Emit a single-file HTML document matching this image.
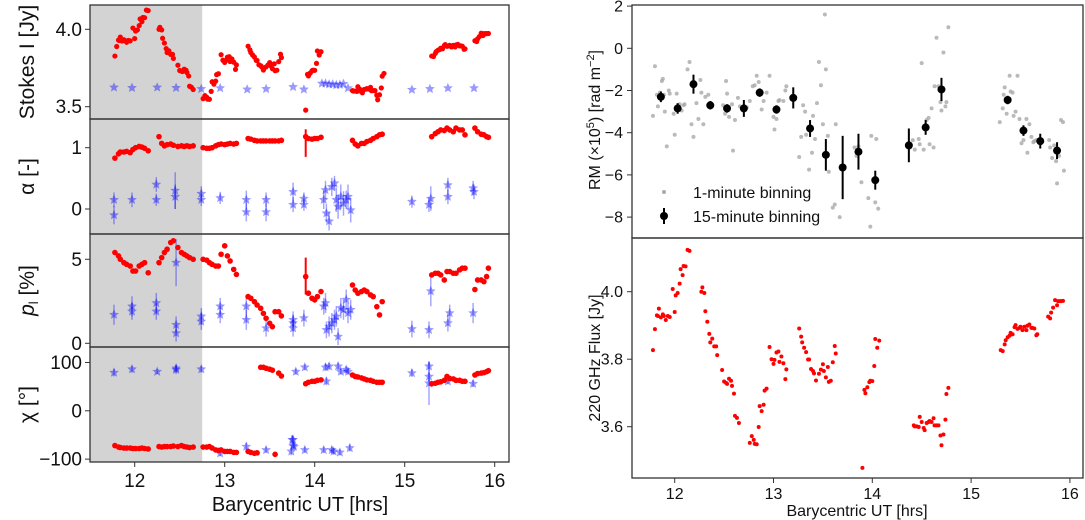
<!DOCTYPE html>
<html><head><meta charset="utf-8"><style>
html,body{margin:0;padding:0;background:#fff}
svg{display:block;font-family:"Liberation Sans","DejaVu Sans",sans-serif}
</style></head><body>
<svg id="fig" width="1085" height="520" viewBox="0 0 1085 520">
<g id="left"></g>
<g id="right"></g>
</svg>
<script>
// ---------- data: 220 GHz flux / Stokes I (hours, Jy) ----------
const fluxT = [11.78,11.80,11.82,11.83,11.84,11.86,11.88,11.89,11.91,11.93,11.95,11.98,12.00,12.01,12.03,12.05,12.06,12.08,12.09,12.11,12.13,12.15,
12.27,12.28,12.30,12.31,12.33,12.35,12.36,12.38,12.40,12.42,12.43,12.48,12.50,12.52,12.53,12.55,12.57,12.58,12.60,12.61,12.63,12.65,
12.76,12.78,12.80,12.81,12.83,12.85,12.86,12.88,12.90,12.91,12.93,12.96,12.98,13.00,13.01,13.03,13.05,13.06,13.08,13.10,13.12,13.13,
13.26,13.28,13.29,13.31,13.33,13.35,13.36,13.38,13.40,13.41,13.43,13.46,13.48,13.50,13.51,13.53,13.55,13.56,13.58,13.60,13.62,13.63,
13.90,13.92,13.93,13.95,13.97,13.98,14.00,14.02,14.03,14.05,14.07,
14.42,14.43,14.45,14.47,14.48,14.50,14.52,14.53,14.55,14.57,14.58,14.60,14.62,14.63,14.65,14.67,14.69,14.70,14.72,14.74,14.75,14.77,
15.30,15.32,15.34,15.35,15.37,15.39,15.40,15.42,15.44,15.45,15.47,15.49,15.50,15.52,15.54,15.56,15.57,15.59,15.61,15.62,15.64,15.66,15.67,
15.78,15.80,15.81,15.83,15.85,15.87,15.88,15.90,15.91,15.93];
const fluxV = [3.827,3.889,3.930,3.928,3.950,3.924,3.933,3.928,3.916,3.928,3.925,4.008,3.940,3.989,3.996,4.024,4.067,4.049,4.076,4.075,4.124,4.121,
4.000,4.013,3.996,3.942,3.911,3.875,3.850,3.861,3.838,3.838,3.812,3.768,3.734,3.730,3.727,3.742,3.736,3.721,3.698,3.632,3.626,3.611,
3.552,3.572,3.561,3.549,3.548,3.599,3.661,3.646,3.665,3.707,3.713,3.836,3.800,3.786,3.798,3.820,3.823,3.792,3.808,3.788,3.741,3.770,
3.891,3.867,3.850,3.834,3.821,3.799,3.799,3.771,3.765,3.758,3.737,3.757,3.769,3.785,3.765,3.746,3.777,3.733,3.736,3.791,3.839,3.817,
3.478,3.709,3.699,3.717,3.732,3.736,3.735,3.780,3.860,3.834,3.855,
3.604,3.601,3.601,3.599,3.629,3.614,3.596,3.590,3.611,3.614,3.617,3.614,3.625,3.604,3.604,3.604,3.574,3.545,3.577,3.621,3.697,3.715,
3.827,3.824,3.844,3.856,3.865,3.870,3.878,3.874,3.895,3.901,3.890,3.893,3.896,3.886,3.896,3.886,3.899,3.903,3.893,3.893,3.891,3.871,3.874,
3.926,3.921,3.938,3.953,3.975,3.960,3.972,3.972,3.972,3.973];

// ---------- data: left red series (alpha, p, chi) ----------
const redT = [11.78,11.82,11.84,11.88,11.91,11.95,11.98,12.01,12.05,12.08,12.11,12.15,
12.27,12.30,12.33,12.36,12.40,12.43,12.48,12.52,12.55,12.58,12.61,12.65,
12.76,12.80,12.83,12.86,12.90,12.93,12.96,13.00,13.03,13.06,13.10,13.13,
13.26,13.29,13.33,13.36,13.40,13.43,13.46,13.50,13.53,13.56,13.60,13.63,
13.90,13.93,13.97,14.00,14.03,14.07,
14.42,14.45,14.48,14.52,14.55,14.58,14.62,14.65,14.69,14.72,14.75,
15.30,15.34,15.37,15.40,15.44,15.47,15.50,15.54,15.57,15.61,15.64,15.67,
15.78,15.81,15.85,15.88,15.91,15.93];
const alphaRed = [0.83,0.90,0.93,0.93,0.94,0.92,0.97,1.00,1.02,1.01,0.99,0.95,
1.18,1.07,1.03,1.05,1.06,1.04,1.02,1.03,1.02,1.03,1.02,1.03,
1.00,0.99,0.99,1.00,1.03,1.05,1.06,1.05,1.06,1.07,1.06,1.07,
1.15,1.14,1.12,1.11,1.11,1.11,1.11,1.11,1.11,1.11,1.11,1.12,
1.18,1.15,1.14,1.15,1.15,1.17,
1.12,1.06,1.03,1.07,1.07,1.10,1.12,1.15,1.18,1.21,1.22,
1.18,1.23,1.26,1.29,1.28,1.32,1.29,1.26,1.32,1.29,1.29,1.21,
1.32,1.26,1.22,1.21,1.18,1.17];
const pRed = [5.4,5.2,5.0,4.8,4.7,4.6,4.3,4.3,4.6,4.7,4.8,4.2,
4.8,5.1,5.4,5.6,6.0,6.1,5.7,5.4,5.3,5.2,5.1,5.0,
5.0,4.95,4.8,4.7,4.6,4.6,5.3,5.8,5.2,4.9,4.4,4.1,
2.78,2.68,2.48,2.28,2.08,1.78,1.49,1.19,0.99,1.88,1.88,1.63,
3.97,2.98,2.68,2.58,2.78,3.08,
3.47,3.17,2.98,3.08,3.17,3.08,2.88,2.78,2.18,1.69,2.48,
4.07,4.17,4.17,4.07,3.77,4.27,4.27,4.17,4.17,4.37,4.47,4.47,
3.2,3.77,3.77,3.67,3.97,4.47];
const chiRed = [-72,-75,-76,-77,-77,-77,-78,-78,-78,-77,-78,-79,
-74,-75,-74,-74,-74,-73,-74,-72,-74,-75,-76,-75,
-75,-75,-74,-77,-81,-82,-81,-84,-84,-84,-86,-86,
-84,-86,-88,-87,90,90,88,86,84,-90,78,72,
56,59,61,61,63,64,
74,71,70,68,66,64,63,61,59,59,59,
56,57,59,60,63,71,67,66,63,63,61,61,
74,77,78,79,81,83];

// ---------- data: left blue series ----------
const stokesBlueT = [11.77,11.97,12.25,12.46,12.74,12.95,13.25,13.46,13.76,13.88,14.08,14.12,14.16,14.20,14.24,14.28,14.32,14.37,15.08,15.28,15.48,15.77];
const stokesBlueV = [3.625,3.622,3.625,3.622,3.615,3.62,3.612,3.615,3.628,3.612,3.65,3.65,3.645,3.645,3.64,3.642,3.648,3.62,3.61,3.615,3.62,3.62];
const alphaBlueT = [11.77,11.77,11.97,12.24,12.24,12.45,12.45,12.74,12.74,12.95,13.24,13.24,13.46,13.46,13.76,13.76,13.88,13.88,14.10,14.12,14.13,14.16,14.19,14.22,14.24,14.26,14.29,14.32,14.35,14.37,14.40,15.08,15.27,15.29,15.48,15.48,15.76,15.77];
const alphaBlueV = [0.15,-0.10,0.15,0.40,0.15,0.30,0.20,0.25,0.15,0.18,0.15,-0.05,0.15,-0.05,0.28,0.07,0.17,0.07,0.15,0.31,-0.07,-0.20,0.36,0.42,0.15,0.04,0.20,0.09,0.15,0.20,-0.02,0.12,0.07,0.17,0.20,0.39,0.34,0.28];
const alphaBlueE = [0.12,0.15,0.12,0.12,0.1,0.3,0.2,0.12,0.1,0.1,0.15,0.15,0.12,0.15,0.15,0.12,0.1,0.1,0.15,0.15,0.15,0.15,0.15,0.12,0.2,0.2,0.2,0.2,0.15,0.2,0.2,0.1,0.12,0.2,0.12,0.12,0.12,0.12];
const pBlueT = [11.77,11.97,11.97,12.24,12.24,12.46,12.46,12.46,12.74,12.74,12.95,12.95,13.24,13.24,13.46,13.76,13.76,13.76,13.88,14.10,14.12,14.13,14.16,14.19,14.22,14.24,14.26,14.29,14.32,14.35,14.37,14.40,15.08,15.27,15.29,15.48,15.50,15.76];
const pBlueV = [1.7,2.2,1.9,2.4,1.9,1.1,0.6,4.8,1.6,1.3,2.2,1.7,1.4,2.2,0.9,1.2,0.9,1.4,1.5,2.2,2.4,0.8,1.0,1.2,1.4,1.6,0.4,2.1,2.0,2.6,1.8,2.0,0.85,0.8,3.1,1.2,1.8,1.8];
const pBlueE = [0.6,0.6,0.5,0.6,0.5,0.5,0.5,1.4,0.5,0.5,0.5,0.5,0.6,0.6,0.5,0.5,0.5,0.5,0.5,0.5,0.6,0.5,0.6,0.6,0.6,0.6,0.5,0.6,0.6,0.6,0.6,0.6,0.5,0.5,0.9,0.5,0.5,0.6];
const chiBlueT = [11.77,11.97,12.25,12.46,12.46,12.74,12.95,13.24,13.46,13.76,13.76,13.74,13.75,13.77,13.79,13.89,13.89,14.12,14.13,14.16,14.10,14.19,14.21,14.26,14.28,14.29,14.35,14.37,14.39,15.08,15.27,15.27,15.27,15.48,15.76];
const chiBlueV = [79,86,81,85,88,86,-88,-74,-81,-60,-72,-84,-60,-74,81,90,-81,90,61,92,-81,-81,-84,92,-86,81,85,81,-77,78,92,71,57,61,56];
const chiBlueE = [8,7,5,9,8,7,6,8,6,8,6,8,10,8,6,6,6,8,8,7,6,7,7,8,6,6,7,6,7,8,10,10,45,6,7];

// ---------- data: RM ----------
const rm1T = [11.78,11.80,11.82,11.83,11.85,11.87,11.88,11.89,11.90,11.92,11.94,11.95,11.99,12.00,12.02,12.05,12.07,12.09,12.10,12.13,12.15,12.17,12.19,12.22,12.24,12.26,12.27,12.29,12.31,12.34,12.36,12.49,12.51,12.52,12.53,12.55,12.58,12.59,12.61,12.64,12.66,12.73,12.76,12.79,12.81,12.83,12.85,12.88,12.90,12.93,12.96,13.00,13.01,13.03,13.05,13.06,13.10,13.12,13.13,13.26,13.28,13.30,13.32,13.33,13.36,13.39,13.40,13.42,13.44,13.46,13.48,13.50,13.52,13.53,13.55,13.56,13.60,13.62,13.63,13.67,13.82,13.84,13.86,13.89,13.96,13.98,13.99,14.01,14.03,14.04,14.06,14.38,14.41,14.43,14.47,14.48,14.50,14.52,14.55,14.57,14.58,14.60,14.62,14.63,14.65,14.67,14.69,14.70,14.72,14.74,14.75,14.77,15.29,15.32,15.33,15.34,15.36,15.39,15.40,15.42,15.43,15.45,15.47,15.49,15.51,15.53,15.56,15.57,15.59,15.61,15.63,15.64,15.66,15.79,15.80,15.82,15.84,15.86,15.87,15.89,15.91,15.93,15.94];
const rm1V = [-3.2,-0.85,-2.2,-2.75,-2.1,-1.55,-1.45,-2.2,-3.0,-4.65,-2.0,-2.15,-3.1,-4.1,-2.15,-2.65,-2.95,-2.7,-2.65,-1.0,-0.65,-3.6,-4.2,-2.6,-3.35,-1.5,-2.1,-3.6,-2.3,-2.2,-2.65,-2.7,-3.1,-1.55,-2.15,-3.25,-2.65,-4.85,-3.4,-2.35,-2.75,-2.8,-2.5,-1.8,-1.75,-1.3,-1.6,-2.9,-2.5,-2.1,-1.3,-3.25,-3.85,-3.35,-2.5,-2.45,-2.5,-2.0,-1.8,-5.15,-4.2,-2.7,-3.0,-4.1,-5.75,-4.95,-3.2,-4.3,-2.6,-0.65,-1.75,-3.6,1.6,-1.0,-4.15,-5.85,-7.55,-7.4,-3.6,-8.0,-4.7,-5.1,-4.65,-6.35,-7.1,-8.45,-4.15,-6.2,-7.3,-4.3,-7.6,-4.7,-4.35,-4.8,-4.3,-4.55,-0.7,-4.8,-3.4,-3.3,-4.55,-2.85,-4.7,-1.8,0.5,-1.8,-2.55,-2.95,-0.2,-2.75,-2.55,1.0,-3.5,-2.85,-2.2,-1.85,-3.1,-1.3,-2.05,-2.1,-3.2,-3.0,-1.3,-3.35,-4.5,-4.35,-3.35,-4.95,-3.6,-4.2,-4.45,-4.4,-4.35,-4.35,-4.7,-5.2,-4.6,-5.35,-6.4,-5.1,-3.4,-3.5,-5.8];
const rm15T = [11.86,12.03,12.19,12.36,12.53,12.70,12.86,13.03,13.20,13.37,13.53,13.70,13.86,14.03,14.37,14.54,14.70,15.37,15.53,15.70,15.87];
const rm15V = [-2.3,-2.85,-1.7,-2.7,-2.85,-2.85,-2.1,-2.9,-2.35,-3.8,-5.05,-5.65,-4.9,-6.25,-4.6,-3.75,-1.95,-2.45,-3.9,-4.4,-4.85];
const rm15E = [0.25,0.25,0.45,0.2,0.2,0.4,0.2,0.2,0.5,0.4,0.75,1.5,0.85,0.45,0.8,0.35,0.55,0.2,0.25,0.35,0.4];

// ---------- ticks ----------
const xTicks = [12,13,14,15,16];
const tickStokes = [3.5,4.0], tickStokesLbl = ["3.5","4.0"];
const tickAlpha = [0,1], tickAlphaLbl = ["0","1"];
const tickP = [0,5], tickPLbl = ["0","5"];
const tickChi = [-100,0,100], tickChiLbl = ["\u2212100","0","100"];
const tickRM = [-8,-6,-4,-2,0,2], tickRMLbl = ["\u22128","\u22126","\u22124","\u22122","0","2"];
const tickFlux = [3.6,3.8,4.0], tickFluxLbl = ["3.6","3.8","4.0"];

// ---------- helpers ----------
const NS = "http://www.w3.org/2000/svg";
function mk(parent, tag, attrs){ const e=document.createElementNS(NS,tag); for(const k in attrs) e.setAttribute(k,attrs[k]); parent.appendChild(e); return e; }
const L = document.getElementById('left'), R = document.getElementById('right');
const xL = h => 134.7 + (h-12)*90;
const xR = h => 674.7 + (h-12)*98.8;
const yS = v => 29.3 - (v-4.0)*154.8;
const yA = v => 147.7 - (v-1)*61.3;
const yP = v => 343.3 - v*16.8;
const yC = v => 410.8 - v*0.4833;
const yRM = v => 48.3 - v*21.1;
const yF = v => 291.7 - (v-4.0)*337.5;
function star(cx,cy,r){ let d=''; for(let i=0;i<10;i++){const a=-Math.PI/2+i*Math.PI/5; const rr=i%2?r*0.45:r; d+=(i?'L':'M')+(cx+rr*Math.cos(a)).toFixed(1)+' '+(cy+rr*Math.sin(a)).toFixed(1);} return d+'Z'; }

const shade = mk(L,'rect',{x:90,y:5,width:xL(12.75)-90,height:457,fill:'#d3d3d3'});



const panels = [
 {top:5,bot:119,name:'stokes-panel',ys:yS,ticks:tickStokes,lbl:tickStokesLbl,title:'Stokes I [Jy]'},
 {top:119,bot:234,name:'alpha-panel',ys:yA,ticks:tickAlpha,lbl:tickAlphaLbl,title:'\u03b1 [-]'},
 {top:234,bot:347,name:'pol-panel',ys:yP,ticks:tickP,lbl:tickPLbl,title:'p'},
 {top:347,bot:462,name:'chi-panel',ys:yC,ticks:tickChi,lbl:tickChiLbl,title:'\u03c7 [\u00b0]'}
];
panels.forEach((p,i)=>{
  const g = mk(L,'g',{});
  
  
  p.g = g;
  p.ticks.forEach((t,j)=>{
    const y=p.ys(t);
    mk(g,'line',{x1:85,x2:90,y1:y,y2:y,stroke:'#333','stroke-width':1});
    const tx = mk(g,'text',{x:82,y:y+6.5,'text-anchor':'end','font-size':19,fill:'#111'});
    tx.textContent=p.lbl[j];
    
    
  });
  const cy=(p.top+p.bot)/2;
  const tt = mk(g,'text',{x:0,y:0,transform:`translate(34,${cy}) rotate(-90)`,'text-anchor':'middle','font-size':21,fill:'#111'});
  if(p.title==='p'){ tt.innerHTML='<tspan font-style="italic">p</tspan><tspan font-size="13" dy="4">l</tspan><tspan dy="-4"> [%]</tspan>'; }
  else tt.textContent=p.title;
  
  
});

function blueStars(g,T,V,E,ys){
  T.forEach((t,i)=>{
    const x=xL(t), y=ys(V[i]);
    if(E){ const e=E[i]; mk(g,'line',{x1:x,x2:x,y1:ys(V[i]+e),y2:ys(V[i]-e),stroke:'#0000ff','stroke-opacity':0.35,'stroke-width':1.5}); }
    const s=mk(g,'path',{d:star(x,y,5.2),fill:'#0000ff','fill-opacity':0.4});
    
    
  });
}
function redDots(g,T,V,ys,r,xs){
  T.forEach((t,i)=>{
    const c=mk(g,'circle',{cx:xs(t),cy:ys(V[i]),r:r,fill:'#ff0000'});
    
    
  });
}
blueStars(panels[0].g,stokesBlueT,stokesBlueV,null,yS);
redDots(panels[0].g,fluxT,fluxV,yS,2.6,xL);
blueStars(panels[1].g,alphaBlueT,alphaBlueV,alphaBlueE,yA);
redDots(panels[1].g,redT,alphaRed,yA,2.8,xL);
blueStars(panels[2].g,pBlueT,pBlueV,pBlueE,yP);
redDots(panels[2].g,redT,pRed,yP,2.8,xL);
blueStars(panels[3].g,chiBlueT,chiBlueV,chiBlueE,yC);
redDots(panels[3].g,redT,chiRed,yC,2.8,xL);
mk(panels[1].g,'line',{x1:xL(13.90),x2:xL(13.90),y1:yA(1.3),y2:yA(0.85),stroke:'#ff0000','stroke-width':2});
mk(panels[2].g,'line',{x1:xL(13.90),x2:xL(13.90),y1:yP(5.1),y2:yP(2.9),stroke:'#ff0000','stroke-width':2});

panels.forEach(p=>{ const f=mk(L,'rect',{x:90,y:p.top,width:419,height:p.bot-p.top,fill:'none',stroke:'#333','stroke-width':1.3});
    });
xTicks.forEach(t=>{
  const x=xL(t);
  mk(L,'line',{x1:x,x2:x,y1:462,y2:467,stroke:'#333'});
  const tx=mk(L,'text',{x:x,y:487,'text-anchor':'middle','font-size':19,fill:'#111'}); tx.textContent=String(t);
   
});
const xtl=mk(L,'text',{x:300,y:511,'text-anchor':'middle','font-size':20,fill:'#111'}); xtl.textContent='Barycentric UT [hrs]';
 

// ---------- right ----------
const gRM=mk(R,'g',{});  
const gF=mk(R,'g',{});  
rm1T.forEach((t,i)=>{ const c=mk(gRM,'circle',{cx:xR(t),cy:yRM(rm1V[i]),r:2,fill:'#a9a9a9','fill-opacity':0.8});
    });
rm15T.forEach((t,i)=>{ const x=xR(t);
  mk(gRM,'line',{x1:x,x2:x,y1:yRM(rm15V[i]+rm15E[i]),y2:yRM(rm15V[i]-rm15E[i]),stroke:'#000','stroke-width':2});
  const c=mk(gRM,'circle',{cx:x,cy:yRM(rm15V[i]),r:4,fill:'#000'});
    });
redDots(gF,fluxT,fluxV,yF,2,xR);
tickRM.forEach((t,j)=>{ const y=yRM(t); mk(gRM,'line',{x1:627,x2:632,y1:y,y2:y,stroke:'#333'});
  const tx=mk(gRM,'text',{x:623,y:y+5.5,'text-anchor':'end','font-size':16,fill:'#111'}); tx.textContent=tickRMLbl[j];
    });
tickFlux.forEach((t,j)=>{ const y=yF(t); mk(gF,'line',{x1:627,x2:632,y1:y,y2:y,stroke:'#333'});
  const tx=mk(gF,'text',{x:623,y:y+5.5,'text-anchor':'end','font-size':16,fill:'#111'}); tx.textContent=tickFluxLbl[j];
    });
[[5,238],[238,478]].forEach(b=>{ const f=mk(R,'rect',{x:632,y:b[0],width:451,height:b[1]-b[0],fill:'none',stroke:'#333','stroke-width':1.3});
    });
xTicks.forEach(t=>{ const x=xR(t); mk(R,'line',{x1:x,x2:x,y1:478,y2:483,stroke:'#333'});
  const tx=mk(R,'text',{x:x,y:499,'text-anchor':'middle','font-size':16,fill:'#111'}); tx.textContent=String(t);
    });
const rxt=mk(R,'text',{x:857,y:516,'text-anchor':'middle','font-size':16,fill:'#111'}); rxt.textContent='Barycentric UT [hrs]';
 
const rmt=mk(R,'text',{transform:'translate(600,120) rotate(-90)','text-anchor':'middle','font-size':16,fill:'#111'});
rmt.innerHTML='RM (\u00d710<tspan font-size="11" dy="-6">5</tspan><tspan dy="6">) [rad m</tspan><tspan font-size="11" dy="-6">\u22122</tspan><tspan dy="6">]</tspan>';
 
const ft=mk(R,'text',{transform:'translate(600,358) rotate(-90)','text-anchor':'middle','font-size':16,fill:'#111'}); ft.textContent='220 GHz Flux [Jy]';
 
const lg=mk(R,'g',{});  
mk(lg,'circle',{cx:664,cy:192,r:2,fill:'#a9a9a9'});
const l1=mk(lg,'text',{x:693,y:198,'font-size':16,fill:'#111'}); l1.textContent='1-minute binning';
 
mk(lg,'line',{x1:664,x2:664,y1:208,y2:224,stroke:'#000','stroke-width':2});
mk(lg,'circle',{cx:664,cy:216,r:4,fill:'#000'});
const l2=mk(lg,'text',{x:693,y:222,'font-size':16,fill:'#111'}); l2.textContent='15-minute binning';
 
</script>
</body></html>
